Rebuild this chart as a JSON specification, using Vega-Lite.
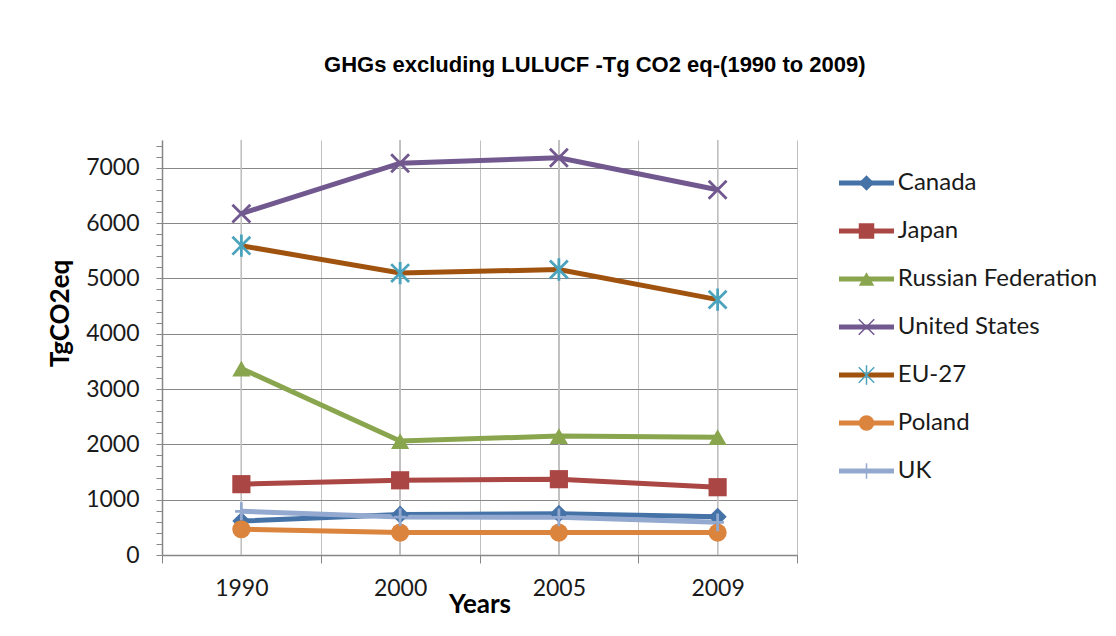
{
  "$schema": "https://vega.github.io/schema/vega-lite/v6.json",
  "background": "white",
  "padding": {"left": 47, "top": 53, "right": 0, "bottom": 0},
  "title": {"text": "GHGs excluding LULUCF -Tg CO2 eq-(1990 to 2009)", "font": "Liberation Sans Narrow, Liberation Sans, sans-serif", "fontSize": 22, "fontWeight": "bold", "color": "#000000", "anchor": "middle", "offset": 58, "dx": 14},
  "config": {"view": {"stroke": null}, "font": "Lato"},
  "spacing": 38,
  "datasets": {
    "ghg": [
      {"series": "Canada", "year": "1990", "value": 615},
      {"series": "Canada", "year": "2000", "value": 730},
      {"series": "Canada", "year": "2005", "value": 745},
      {"series": "Canada", "year": "2009", "value": 690},
      {"series": "Japan", "year": "1990", "value": 1280},
      {"series": "Japan", "year": "2000", "value": 1350},
      {"series": "Japan", "year": "2005", "value": 1370},
      {"series": "Japan", "year": "2009", "value": 1225},
      {"series": "Russian Federation", "year": "1990", "value": 3370},
      {"series": "Russian Federation", "year": "2000", "value": 2060},
      {"series": "Russian Federation", "year": "2005", "value": 2150},
      {"series": "Russian Federation", "year": "2009", "value": 2130},
      {"series": "United States", "year": "1990", "value": 6170},
      {"series": "United States", "year": "2000", "value": 7080},
      {"series": "United States", "year": "2005", "value": 7180},
      {"series": "United States", "year": "2009", "value": 6600},
      {"series": "EU-27", "year": "1990", "value": 5590},
      {"series": "EU-27", "year": "2000", "value": 5095},
      {"series": "EU-27", "year": "2005", "value": 5160},
      {"series": "EU-27", "year": "2009", "value": 4615},
      {"series": "Poland", "year": "1990", "value": 465},
      {"series": "Poland", "year": "2000", "value": 405},
      {"series": "Poland", "year": "2005", "value": 405},
      {"series": "Poland", "year": "2009", "value": 405},
      {"series": "UK", "year": "1990", "value": 790},
      {"series": "UK", "year": "2000", "value": 685},
      {"series": "UK", "year": "2005", "value": 680},
      {"series": "UK", "year": "2009", "value": 590}
    ]
  },
  "resolve": {"scale": {"x": "independent", "y": "independent"}},
  "hconcat": [
    {
      "width": 635,
      "height": 415,
      "data": {"name": "ghg"},
      "encoding": {
        "x": {
          "field": "year", "type": "ordinal",
          "scale": {"type": "band", "paddingInner": 0, "paddingOuter": 0, "domain": ["1990", "2000", "2005", "2009"]},
          "axis": {
            "title": "Years", "titleFontSize": 26, "titleFont": "Lato", "titleFontWeight": "bold", "titleColor": "#000000", "titlePadding": -9,
            "labelFontSize": 23, "labelFont": "Lato", "labelColor": "#1a1a1a", "labelPadding": 14, "labelAngle": 0,
            "tickBand": "extent", "tickSize": 8, "tickColor": "#868686", "domainColor": "#868686", "domainWidth": 1.5,
            "grid": true, "gridColor": "#c0c0c0", "gridWidth": 1
          }
        }
      },
      "layer": [
        {
          "mark": {"type": "rule", "color": "#c0c0c0", "strokeWidth": 1},
          "encoding": {}
        },
        {
          "mark": {"type": "line", "strokeWidth": 5},
          "encoding": {
            "y": {
              "field": "value", "type": "quantitative",
              "scale": {"domain": [0, 7500], "nice": false, "zero": true},
              "axis": {
                "title": "TgCO2eq", "titleFontSize": 26, "titleFont": "Lato", "titleFontWeight": "bold", "titleColor": "#000000", "titlePadding": 12, "titleY": 173,
                "labelFontSize": 23, "labelFont": "Lato", "labelColor": "#1a1a1a", "labelPadding": 17, "tickSize": 6,
                "tickCount": 200,
                "values": [0, 200, 400, 600, 800, 1000, 1200, 1400, 1600, 1800, 2000, 2200, 2400, 2600, 2800, 3000, 3200, 3400, 3600, 3800, 4000, 4200, 4400, 4600, 4800, 5000, 5200, 5400, 5600, 5800, 6000, 6200, 6400, 6600, 6800, 7000, 7200, 7400],
                "labelExpr": "datum.value % 1000 === 0 ? '' + datum.value : ''",
                "labelOverlap": false, "labelFlush": false,
                "grid": true, "gridColor": "#878787", "gridWidth": 1.2,
                "gridOpacity": {"condition": {"test": "datum.value % 1000 === 0", "value": 1}, "value": 0},
                "tickColor": "#878787", "domainColor": "#878787", "domainWidth": 1.5
              }
            },
            "color": {
              "field": "series", "type": "nominal", "legend": null,
              "scale": {"domain": ["Canada", "Japan", "Russian Federation", "United States", "EU-27", "Poland", "UK"], "range": ["#4572A7", "#AA4643", "#89A54E", "#71588F", "#A0520F", "#DB843D", "#93A9CF"]}
            }
          }
        },
        {
          "transform": [{"filter": {"field": "series", "oneOf": ["Canada", "Japan", "Russian Federation", "Poland"]}}],
          "mark": {"type": "point", "filled": true, "opacity": 1, "size": 330},
          "encoding": {
            "y": {"field": "value", "type": "quantitative"},
            "color": {"field": "series", "type": "nominal", "legend": null},
            "shape": {
              "field": "series", "type": "nominal", "legend": null,
              "scale": {"domain": ["Canada", "Japan", "Russian Federation", "United States", "EU-27", "Poland", "UK"], "range": ["diamond", "square", "triangle-up", "M-1,-1L1,1M-1,1L1,-1", "M-1,-1L1,1M-1,1L1,-1M0,-1.25L0,1.25", "circle", "M0,-1L0,1M-0.7,0L0.7,0"]}
            }
          }
        },
        {
          "transform": [{"filter": {"field": "series", "oneOf": ["United States", "EU-27", "UK"]}}],
          "mark": {"type": "point", "filled": false, "opacity": 1, "size": 320, "strokeWidth": 2.8},
          "encoding": {
            "y": {"field": "value", "type": "quantitative"},
            "stroke": {
              "field": "series", "type": "nominal", "legend": null,
              "scale": {"domain": ["United States", "EU-27", "UK"], "range": ["#71588F", "#4BA3BC", "#93A9CF"]}
            },
            "shape": {"field": "series", "type": "nominal", "legend": null}
          }
        }
      ]
    },
    {
      "width": 275,
      "height": 374,
      "data": {"name": "ghg"},
      "transform": [{"filter": "datum.year == '1990'"}],
      "encoding": {
        "y": {
          "field": "series", "type": "nominal", "axis": null,
          "scale": {"type": "point", "padding": 0.896, "domain": ["Canada", "Japan", "Russian Federation", "United States", "EU-27", "Poland", "UK"]}
        }
      },
      "layer": [
        {
          "mark": {"type": "rule", "strokeWidth": 5},
          "encoding": {
            "x": {"datum": 0, "type": "quantitative", "scale": {"domain": [0, 5], "nice": false, "zero": false}, "axis": null},
            "x2": {"datum": 1},
            "color": {
              "field": "series", "type": "nominal", "legend": null,
              "scale": {"domain": ["Canada", "Japan", "Russian Federation", "United States", "EU-27", "Poland", "UK"], "range": ["#4572A7", "#AA4643", "#89A54E", "#71588F", "#A0520F", "#DB843D", "#93A9CF"]}
            }
          }
        },
        {
          "transform": [{"filter": {"field": "series", "oneOf": ["Canada", "Japan", "Russian Federation", "Poland"]}}],
          "mark": {"type": "point", "filled": true, "opacity": 1, "size": 240},
          "encoding": {
            "x": {"datum": 0.5, "type": "quantitative"},
            "color": {"field": "series", "type": "nominal", "legend": null},
            "shape": {
              "field": "series", "type": "nominal", "legend": null,
              "scale": {"domain": ["Canada", "Japan", "Russian Federation", "United States", "EU-27", "Poland", "UK"], "range": ["diamond", "square", "triangle-up", "M-1,-1L1,1M-1,1L1,-1", "M-1,-1L1,1M-1,1L1,-1M0,-1.25L0,1.25", "circle", "M0,-1L0,1M-0.7,0L0.7,0"]}
            }
          }
        },
        {
          "transform": [{"filter": {"field": "series", "oneOf": ["United States", "EU-27", "UK"]}}],
          "mark": {"type": "point", "filled": false, "opacity": 1, "size": 240, "strokeWidth": 1.5},
          "encoding": {
            "x": {"datum": 0.5, "type": "quantitative"},
            "stroke": {
              "field": "series", "type": "nominal", "legend": null,
              "scale": {"domain": ["United States", "EU-27", "UK"], "range": ["#9A86B8", "#6FC0D4", "#93A9CF"]}
            },
            "shape": {"field": "series", "type": "nominal", "legend": null}
          }
        },
        {
          "mark": {"type": "text", "align": "left", "baseline": "middle", "fontSize": 24, "font": "Lato", "color": "#1a1a1a"},
          "encoding": {
            "x": {"datum": 1.07, "type": "quantitative"},
            "text": {"field": "series", "type": "nominal"}
          }
        }
      ]
    }
  ]
}
